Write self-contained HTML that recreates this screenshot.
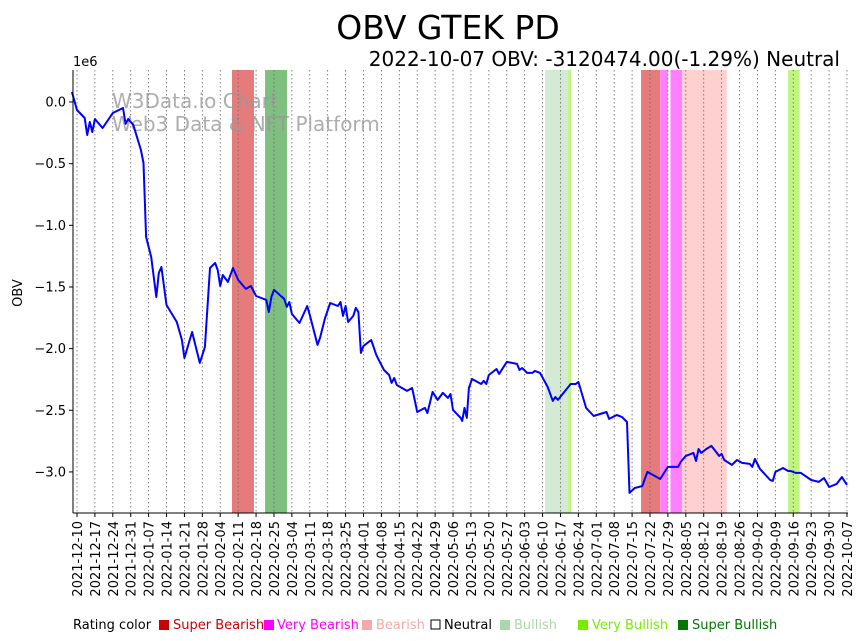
<!DOCTYPE html>
<html><head><meta charset="utf-8"><style>
body{margin:0;background:#fff;}
svg{display:block;font-family:"DejaVu Sans","Liberation Sans",sans-serif;}
</style></head><body>
<svg id="chart" width="864" height="641">
<text x="448" y="39" font-size="33" text-anchor="middle">OBV GTEK PD</text>
<text x="840" y="66" font-size="20" text-anchor="end">2022-10-07 OBV: -3120474.00(-1.29%) Neutral</text>
<text x="73" y="66" font-size="13">1e6</text>
<text x="22" y="293" font-size="13" text-anchor="middle" transform="rotate(-90 22 293)">OBV</text>
<g id="bands"></g><g id="grid"></g>
<text x="112" y="108" font-size="20" fill="#999" fill-opacity="0.8">W3Data.io Chart</text>
<text x="112" y="131" font-size="20" fill="#999" fill-opacity="0.8">Web3 Data &amp; NFT Platform</text>
<g id="series"></g><g id="axes"></g>
<g id="legend" font-size="13">
<text x="73" y="629">Rating color</text>
<rect x="159" y="620" width="10" height="10" fill="#cc0000"/><text x="173" y="629" fill="#cc0000">Super Bearish</text>
<rect x="264" y="620" width="10" height="10" fill="#ff00ff"/><text x="277" y="629" fill="#ff00ff">Very Bearish</text>
<rect x="362" y="620" width="10" height="10" fill="#f4aaaa"/><text x="376" y="629" fill="#f4aaaa">Bearish</text>
<rect x="431" y="620" width="9" height="9" fill="none" stroke="#000"/><text x="444" y="629">Neutral</text>
<rect x="500" y="620" width="10" height="10" fill="#a8d8a8"/><text x="514" y="629" fill="#a8d8a8">Bullish</text>
<rect x="578" y="620" width="10" height="10" fill="#77ee00"/><text x="592" y="629" fill="#77ee00">Very Bullish</text>
<rect x="678" y="620" width="10" height="10" fill="#007700"/><text x="692" y="629" fill="#007700">Super Bullish</text>
</g>
</svg>
<script>
// day offsets from 2021-12-10
const days=[-2,0,3,4,5,6,7,10,14,18,19,20,22,25,26,27,29,31,32,33,35,39,41,42,45,48,50,52,54,55,56,57,59,61,63,66,68,70,74,75,76,77,81,82,83,84,87,90,91,94,95,97,99,102,103,104,105,106,108,109,110,111,112,115,117,118,120,122,123,124,125,129,131,132,133,136,137,139,141,143,145,146,147,150,150.6,151.5,152.4,153.2,154.4,158,159,160,161,164,165,168,172,173,174,176,178,179,181,184,186,187,188,193,195,196,199,202,207,208,211,213,215,216,218,221,223,228,231,235,236,238,241,242,243,244,246,248,251,252,253,256,258,260,263,264,265,267,271,272,273,276,278,279,281,283,287,290,292,294,297,299,300,301];
// OBV values in millions
const obv=[0.081,-0.065,-0.130,-0.268,-0.162,-0.243,-0.138,-0.211,-0.089,-0.049,-0.178,-0.138,-0.186,-0.389,-0.495,-1.095,-1.257,-1.581,-1.387,-1.338,-1.646,-1.784,-1.930,-2.076,-1.865,-2.116,-1.987,-1.346,-1.305,-1.362,-1.492,-1.403,-1.459,-1.346,-1.443,-1.516,-1.492,-1.573,-1.605,-1.703,-1.581,-1.524,-1.597,-1.662,-1.622,-1.719,-1.792,-1.654,-1.727,-1.970,-1.914,-1.751,-1.630,-1.654,-1.622,-1.735,-1.654,-1.784,-1.735,-1.670,-1.703,-2.035,-1.978,-1.930,-2.051,-2.092,-2.173,-2.214,-2.278,-2.238,-2.295,-2.343,-2.319,-2.416,-2.514,-2.481,-2.522,-2.351,-2.416,-2.359,-2.400,-2.368,-2.497,-2.562,-2.587,-2.481,-2.562,-2.319,-2.246,-2.287,-2.262,-2.287,-2.214,-2.165,-2.205,-2.108,-2.124,-2.173,-2.157,-2.197,-2.197,-2.181,-2.197,-2.311,-2.424,-2.392,-2.416,-2.287,-2.287,-2.270,-2.481,-2.546,-2.514,-2.570,-2.538,-2.554,-2.595,-3.170,-3.130,-3.114,-3.000,-3.057,-2.959,-2.959,-2.919,-2.870,-2.846,-2.911,-2.814,-2.846,-2.814,-2.789,-2.870,-2.854,-2.903,-2.943,-2.903,-2.927,-2.935,-2.959,-2.895,-2.976,-3.065,-3.073,-3.000,-2.968,-2.992,-2.992,-3.008,-3.008,-3.065,-3.081,-3.049,-3.122,-3.097,-3.041,-3.073,-3.105];
const bandStart=[60.6,73.5,183,192,220.5,228,232,236.5,278];
const bandEnd=[69.2,82.1,192,193.2,228,231,236.5,254,282.5];
const bandColor=["#e57b7b","#7fbf7f","#d4ead4","#bff47f","#e57b7b","#ff80ff","#ff80ff","#ffd0d0","#bff47f"];
const yTicks=[0,-0.5,-1,-1.5,-2,-2.5,-3];
const yTickLabels=["0.0","\u22120.5","\u22121.0","\u22121.5","\u22122.0","\u22122.5","\u22123.0"];
const weekCount=44;

const NS="http://www.w3.org/2000/svg";
const L=73,R=848,T=70,B=513;
const dMin=-1.56,dMax=301.4,vMax=0.2595,vMin=-3.333;
const xs=d=>L+(d-dMin)/(dMax-dMin)*(R-L);
const ys=v=>T+(vMax-v)/(vMax-vMin)*(B-T);
function mk(tag,attrs,parent){const e=document.createElementNS(NS,tag);for(const k in attrs)e.setAttribute(k,attrs[k]);parent.appendChild(e);return e;}

const gb=document.getElementById('bands');
bandStart.forEach((s,i)=>{
  const r=mk('rect',{x:xs(s),y:T,width:xs(bandEnd[i])-xs(s),height:B-T,fill:bandColor[i]},gb);
  
  
});

const gg=document.getElementById('grid'),ga=document.getElementById('axes');
const base=new Date(Date.UTC(2021,11,10));
for(let w=0;w<weekCount;w++){
  const x=xs(w*7);
  const l=mk('line',{x1:x,x2:x,y1:T,y2:B,stroke:'#666','stroke-width':0.8,'stroke-dasharray':'1.5,2.5'},gg);
  
  
  const tk=mk('line',{x1:x,x2:x,y1:B,y2:B+4,stroke:'#000'},ga);
  
  
  const dt=new Date(base.getTime()+w*7*86400000);
  const s=dt.toISOString().slice(0,10);
  const t=mk('text',{x:x+5,y:B+8,'font-size':13,'text-anchor':'end',transform:`rotate(-90 ${x+5} ${B+8})`},ga);
  t.textContent=s;
  
  
}
yTicks.forEach((v,i)=>{
  const y=ys(v);
  const tk=mk('line',{x1:L-4,x2:L,y1:y,y2:y,stroke:'#000'},ga);
  
  
  const t=mk('text',{x:L-7,y:y+4.5,'font-size':13,'text-anchor':'end'},ga);
  t.textContent=yTickLabels[i];
  
  
});
const ax1=mk('line',{x1:L,x2:L,y1:T,y2:B,stroke:'#000'},ga);


const ax2=mk('line',{x1:L,x2:R,y1:B,y2:B,stroke:'#000'},ga);



const pts=days.map((d,i)=>xs(d).toFixed(1)+','+ys(obv[i]).toFixed(1)).join(' ');
const pl=mk('polyline',{points:pts,fill:'none',stroke:'#0000ff','stroke-width':2,'stroke-linejoin':'round'},document.getElementById('series'));


</script>
</body></html>
